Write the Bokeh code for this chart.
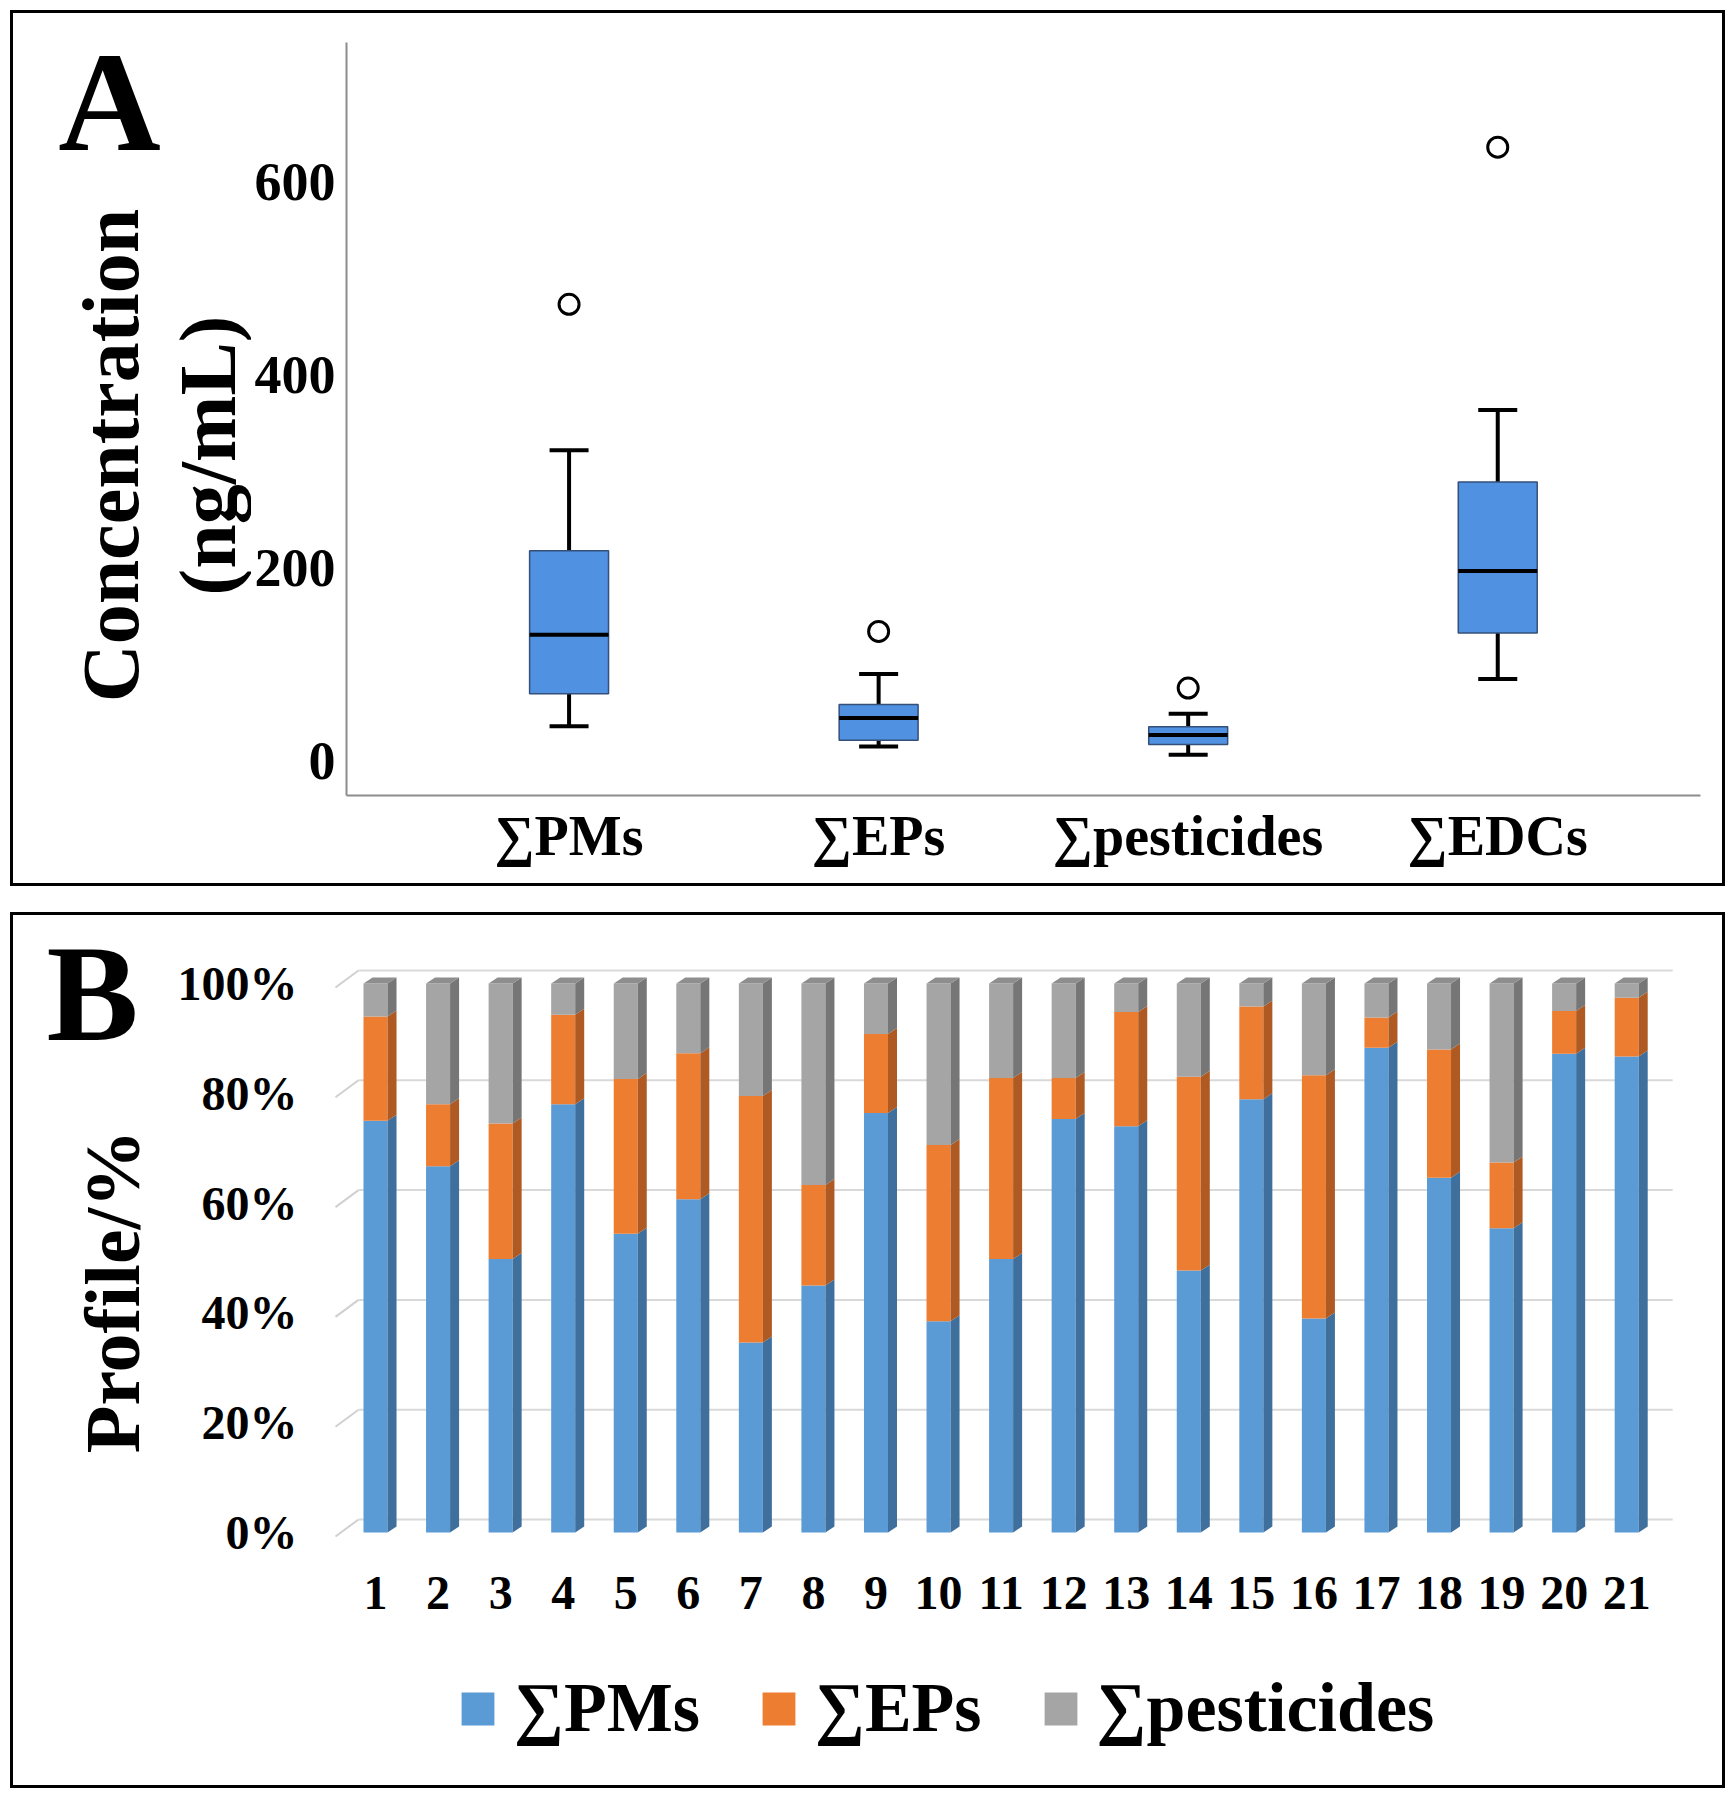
import math
import numpy as np
from bokeh.plotting import figure
from bokeh.models import (Range1d, FixedTicker, Label, Legend, LegendItem,
                          ColumnDataSource)
from bokeh.layouts import column, row
from bokeh.embed import file_html
from bokeh.resources import INLINE

FONT = "Liberation Serif"

# ---------------- Panel A data (box plot) ----------------
groups = ["∑PMs", "∑EPs", "∑pesticides", "∑EDCs"]
whisker_low = [36.5, 15.5, 7.0, 85.3]
q1 = [70.0, 22.0, 17.5, 133.0]
median = [131.0, 45.0, 27.3, 197.0]
q3 = [218.0, 59.0, 36.0, 289.0]
whisker_high = [322.0, 90.5, 49.5, 363.5]
outliers = [473.0, 134.5, 76.0, 635.5]
a_ticks = [0, 200, 400, 600]

# ---------------- Panel B data (profile %) ----------------
samples = [str(i) for i in range(1, 22)]
pms_pct = [75.0, 66.7, 49.8, 78.0, 54.4, 60.7, 34.6, 45.0, 76.4, 38.5, 49.8,
           75.3, 74.0, 47.7, 78.9, 39.0, 88.3, 64.6, 55.4, 87.2, 86.7]
eps_pct = [19.0, 11.3, 24.7, 16.3, 28.2, 26.6, 44.9, 18.3, 14.4, 32.1, 33.0,
           7.5, 20.8, 35.3, 16.9, 44.3, 5.5, 23.4, 12.0, 7.8, 10.7]
pest_pct = [6.0, 22.0, 25.5, 5.7, 17.4, 12.7, 20.5, 36.7, 9.2, 29.4, 17.2,
            17.2, 5.2, 17.0, 4.2, 16.7, 6.2, 12.0, 32.6, 5.0, 2.6]
series_names = ["∑PMs", "∑EPs", "∑pesticides"]
b_ticks = [0, 20, 40, 60, 80, 100]

H = 876
LINE = "3px solid black"
front_cols = ["#5B9BD5", "#ED7D31", "#A5A5A5"]
side_cols = ["#3F6F9C", "#AF5A22", "#767676"]


def blank(width, height, borders):
    """A plain canvas without axes whose frame covers the whole figure."""
    t = figure(width=width, height=height, output_backend="svg", toolbar_location=None,
               x_range=Range1d(0, width), y_range=Range1d(0, height),
               x_axis_type=None, y_axis_type=None,
               min_border_left=0, min_border_right=0, min_border_top=0,
               min_border_bottom=0, frame_align=False,
               styles={f"border-{b}": LINE for b in borders})
    t.outline_line_color = None
    t.grid.visible = False
    t.background_fill_color = "white"
    t.border_fill_color = "white"
    return t


def text_panel(width, labels):
    t = blank(width, H, ["left", "top", "bottom"])
    for (x, y, txt, size, angle) in labels:
        t.add_layout(Label(x=x, y=y, text=txt, angle=angle, text_font=FONT,
                           text_font_style="bold", text_font_size=size,
                           text_color="black", text_align="center",
                           text_baseline="middle"))
    return t


# ======================= Panel A =======================
tA = text_panel(241, [
    (96, 788, "A", "142px", 0.0),
    (97, 434, "Concentration", "80px", math.pi / 2),
    (194, 434, "(ng/mL)", "80px", math.pi / 2),
])

pA = figure(width=1474, height=H, output_backend="svg", toolbar_location=None,
            x_range=Range1d(-0.719, 3.655), y_range=Range1d(-35.2, 743.8),
            min_border_left=93, min_border_right=25, min_border_top=29,
            min_border_bottom=94, frame_align=False,
            styles={"border-right": LINE, "border-top": LINE, "border-bottom": LINE})
pA.background_fill_color = "white"
pA.border_fill_color = "white"
pA.outline_line_color = None
pA.grid.visible = False

xA = list(range(len(groups)))
box_w = 0.255
cap_w = 0.126
srcA = ColumnDataSource(dict(
    x=xA, lo=whisker_low, q1=q1, med=median, q3=q3, hi=whisker_high,
    out=outliers,
    bl=[v - box_w / 2 for v in xA], br=[v + box_w / 2 for v in xA],
    cl=[v - cap_w / 2 for v in xA], cr=[v + cap_w / 2 for v in xA]))

pA.segment(x0="x", y0="q3", x1="x", y1="hi", source=srcA, line_color="black", line_width=4)
pA.segment(x0="x", y0="q1", x1="x", y1="lo", source=srcA, line_color="black", line_width=4)
pA.segment(x0="cl", y0="hi", x1="cr", y1="hi", source=srcA, line_color="black", line_width=4)
pA.segment(x0="cl", y0="lo", x1="cr", y1="lo", source=srcA, line_color="black", line_width=4)
pA.quad(left="bl", right="br", bottom="q1", top="q3", source=srcA,
        fill_color="#5191E1", line_color="#34507a", line_width=1.5)
pA.segment(x0="bl", y0="med", x1="br", y1="med", source=srcA, line_color="black", line_width=4)
pA.scatter(x="x", y="out", source=srcA, marker="circle", size=20,
           fill_color="white", line_color="black", line_width=3)

pA.xaxis.ticker = FixedTicker(ticks=xA)
pA.xaxis.major_label_overrides = {i: g for i, g in enumerate(groups)}
pA.yaxis.ticker = FixedTicker(ticks=a_ticks)
for ax in (pA.xaxis[0], pA.yaxis[0]):
    ax.axis_line_color = "#8c8c8c"
    ax.axis_line_width = 2
    ax.major_tick_line_color = None
    ax.minor_tick_line_color = None
    ax.major_label_text_font = FONT
    ax.major_label_text_font_style = "bold"
    ax.major_label_text_color = "black"
pA.yaxis.major_label_text_font_size = "54px"
pA.xaxis.major_label_text_font_size = "56px"
pA.yaxis.major_label_standoff = 5
pA.xaxis.major_label_standoff = 3

# ======================= Panel B =======================
tB = text_panel(155, [
    (79, 798, "B", "138px", 0.0),
    (99, 500, "Profile/%", "78px", math.pi / 2),
])

HB = 720   # chart part of panel B; the legend strip takes the rest
pB = figure(width=1560, height=HB, output_backend="svg", toolbar_location=None,
            x_range=Range1d(-0.199, 22.02), y_range=Range1d(-2.37, 105.1),
            min_border_left=135, min_border_right=35, min_border_top=40,
            min_border_bottom=90, frame_align=False,
            styles={"border-right": LINE, "border-top": LINE})
pB.background_fill_color = "white"
pB.border_fill_color = "white"
pB.outline_line_color = None
pB.grid.visible = False

xB = np.arange(1, len(samples) + 1)
bw = 0.384   # front face width
dx = 0.144   # depth in x
dy = 1.09    # depth in y
fx, bx, ex = 0.36, 0.728, 21.735   # 3D wall: front edge, back edge, right end
off_f, off_b = -0.73, 2.37

gy_f = [t + off_f for t in b_ticks]
gy_b = [t + off_b for t in b_ticks]
pB.segment(x0=[fx] * len(b_ticks), y0=gy_f, x1=[bx] * len(b_ticks), y1=gy_b,
           line_color="#d0d0d0", line_width=2)
pB.segment(x0=[bx] * len(b_ticks), y0=gy_b, x1=[ex] * len(b_ticks), y1=gy_b,
           line_color="#d9d9d9", line_width=2)

srcB = ColumnDataSource(dict(x=xB, pm=pms_pct, ep=eps_pct, pe=pest_pct))
rs = pB.vbar_stack(["pm", "ep", "pe"], x="x", width=bw, source=srcB,
                   fill_color=front_cols, line_color=None)

sx, sy, sc = [], [], []
for i in range(len(samples)):
    xr = xB[i] + bw / 2
    bot = 0.0
    for val, c in zip([pms_pct[i], eps_pct[i], pest_pct[i]], side_cols):
        top = bot + val
        sx.append([xr, xr + dx, xr + dx, xr])
        sy.append([bot, bot + dy, top + dy, top])
        sc.append(c)
        bot = top
    xl = xB[i] - bw / 2
    sx.append([xl, xl + dx, xr + dx, xr])
    sy.append([bot, bot + dy, bot + dy, bot])
    sc.append("#8e8e8e")
pB.patches(xs=sx, ys=sy, fill_color=sc, line_color=None)

pB.xaxis.ticker = FixedTicker(ticks=[int(v) for v in xB])
pB.xaxis.major_label_overrides = {int(v): s for v, s in zip(xB, samples)}
pB.yaxis.ticker = FixedTicker(ticks=b_ticks)
pB.yaxis.major_label_overrides = {t: f"{t}%" for t in b_ticks}
for ax in (pB.xaxis[0], pB.yaxis[0]):
    ax.axis_line_color = None
    ax.major_tick_line_color = None
    ax.minor_tick_line_color = None
    ax.major_label_text_font = FONT
    ax.major_label_text_font_style = "bold"
    ax.major_label_text_color = "black"
    ax.major_label_text_font_size = "48px"
pB.yaxis.major_label_standoff = -3
pB.xaxis.major_label_standoff = 25

# legend strip: key swatches use the same colours as the stacked bars
pL = blank(1560, H - HB, ["right", "bottom"])
nan = float("nan")
keys = [pL.quad(left=[nan], right=[nan], bottom=[nan], top=[nan],
                fill_color=c, line_color=None) for c in front_cols]
legend = Legend(items=[LegendItem(label=n, renderers=[r]) for n, r in zip(series_names, keys)],
                orientation="horizontal", location=(292, 40))
legend.label_text_font = FONT
legend.label_text_font_style = "bold"
legend.label_text_font_size = "70px"
legend.label_text_color = "black"
legend.glyph_width = 41
legend.glyph_height = 41
legend.label_standoff = 16
legend.spacing = 58
legend.border_line_color = None
legend.background_fill_alpha = 0
legend.padding = 10
legend.margin = 0
pL.add_layout(legend, "center")

rowA = row(tA, pA, styles={"margin-left": "10px", "margin-top": "10px"})
rowB = row(tB, column(pB, pL), styles={"margin-left": "10px"})
layout = column(rowA, rowB, spacing=26)
open("out.html", "w").write(file_html(layout, INLINE))
